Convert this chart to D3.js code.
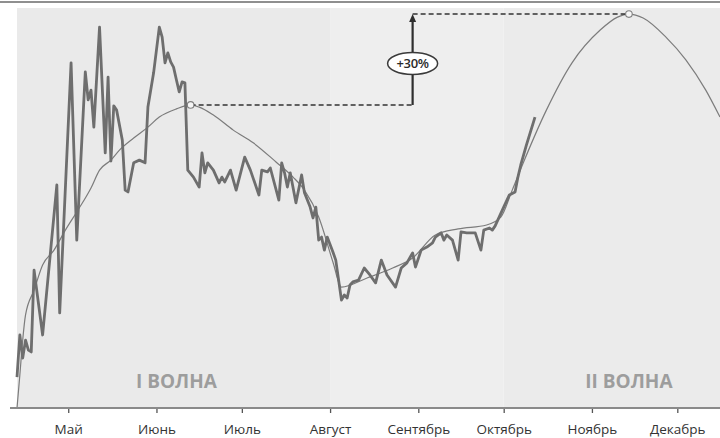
<!DOCTYPE html>
<html><head><meta charset="utf-8">
<script src="https://cdn.jsdelivr.net/npm/d3@7/dist/d3.min.js"></script>
<style>html,body{margin:0;padding:0;background:#fff;}svg{display:block;}</style>
</head><body>
<svg id="chart" width="720" height="438"></svg>
<script>
// ---- data ----
const startDate = "2020-04-13";
const endDate = "2020-12-16";
const monthTicks = ["2020-05-01","2020-06-01","2020-07-01","2020-08-01","2020-09-01","2020-10-01","2020-11-01","2020-12-01"];
const monthLabels = ["Май","Июнь","Июль","Август","Сентябрь","Октябрь","Ноябрь","Декабрь"];
const regionBounds = ["2020-04-13","2020-08-01","2020-10-01","2020-12-16"];
// daily series: day offsets from startDate and values
const dataDays = [0,1,2,3,4,5,6,9,14,15,19,21,24,25,26,27,29,31,32,33,34,35,37,38,39,41,43,45,46,48,50,51,52,53,54,55,56,57,58,59,60,62,64,65,66,67,69,71,72,73,75,77,80,82,85,86,88,89,92,93,94,95,96,98,100,101,103,104,105,106,107,108,109,111,112,114,115,116,117,118,120,122,124,126,128,130,133,135,137,139,140,142,144,146,147,149,150,151,153,155,156,158,161,163,164,166,167,168,171,173,175,176,177,179,182];
const dataValues = [10.2,24.1,16.5,22.4,19.1,18.5,45.5,24.1,73.6,31.4,113.9,55.4,110.9,101.7,104.9,92.7,125.7,84.2,109.2,81.5,99.7,98.3,88.4,71.9,71.3,80.9,81.8,80.9,99.3,110.6,125.7,122.4,113.9,117.2,114.2,112.5,108.3,104.3,107.6,107.3,78.5,76.2,72.9,84.2,77.6,80.9,78.5,74.3,76.2,74.6,78.5,71.9,82.8,78.5,70.3,78.5,77.9,79.2,68.6,80.9,77.6,72.9,77.6,67.7,76.9,71.0,66.3,62.7,66.3,55.4,56.4,52.1,56.4,51.5,48.8,35.6,37.3,36.3,40.6,41.6,42.2,46.2,43.9,41.3,48.8,43.9,39.9,46.2,47.9,51.2,46.5,52.1,53.1,54.5,56.4,57.8,55.4,57.1,55.4,48.8,58.1,57.8,57.8,52.1,58.7,59.4,58.7,60.1,66.3,70.3,71.3,76.2,80.2,86.8,96.0];
// smoothed trend (two waves)
const trendDays = [0,1,2,3,6,9,13,17,21,26,29,33,36,41,46,50,56,61,64,69,76,83,91,97,101,106,111,114,123,132,139,147,155,165,170,174,178,186,195,205,211,215,220,228,235,242,247];
const trendValues = [0,10.9,22.4,30.7,38.9,47.2,52.1,58.7,64.7,72.6,78.5,81.8,85.1,89.1,92.7,96.0,98.7,100,99.3,96.7,91.7,87.5,81.2,76.2,71.9,63.0,48.2,39.9,42.9,46.2,49.5,57.1,59.1,60.4,63.0,71.9,81.2,98.3,113.9,124.8,129.0,130,128.7,122.4,114.9,104.9,96.0];
const peakDays = [61, 215];
const peakValues = [100, 130];
const arrowDay = 139;
const annotationText = "+30%";
const waveLabels = ["I ВОЛНА","II ВОЛНА"];
const waveLabelDays = [56, 215];

// ---- chart ----
const W = 720, H = 438;
const padL = 17, padR = 720, padT = 8, padB = 408;
const svg = d3.select("#chart");
const parse = d3.timeParse("%Y-%m-%d");
const t0 = parse(startDate);
const dayToDate = d => new Date(t0.getTime() + d * 864e5);
const x = d3.scaleTime().domain([t0, parse(endDate)]).range([padL, padR]);
const y = d3.scaleLinear().domain([0, 132]).range([padB, padT]);

// top rule
svg.append("line").attr("x1",0).attr("x2",W).attr("y1",2).attr("y2",2)
  .attr("stroke","#6a6a6a").attr("stroke-width",1.5);

// background regions
const regionFills = ["#eaeaea","#eeeeee","#ebebeb"];
for (let i = 0; i < 3; i++) {
  const x0 = x(parse(regionBounds[i])), x1 = x(parse(regionBounds[i+1]));
  svg.append("rect").attr("x",x0).attr("y",padT).attr("width",x1-x0).attr("height",padB-padT)
    .attr("fill",regionFills[i]);
}

// wave labels
waveLabels.forEach((t,i) => {
  svg.append("text").attr("x", x(dayToDate(waveLabelDays[i]))).attr("y", 388)
    .attr("text-anchor","middle").attr("font-family","'Open Sans', sans-serif")
    .attr("font-weight","bold").attr("font-size",19).attr("fill","#9d9d9d").text(t);
});

// trend line
const trendLine = d3.line().x(d => x(dayToDate(d[0]))).y(d => y(d[1])).curve(d3.curveMonotoneX);
svg.append("path").datum(trendDays.map((d,i)=>[d,trendValues[i]]))
  .attr("d", trendLine).attr("fill","none").attr("stroke","#7c7c7c").attr("stroke-width",1.2);

// data line
const dataLine = d3.line().x(d => x(dayToDate(d[0]))).y(d => y(d[1]));
svg.append("path").datum(dataDays.map((d,i)=>[d,dataValues[i]]))
  .attr("d", dataLine).attr("fill","none").attr("stroke","#6e6e6e").attr("stroke-width",2.8)
  .attr("stroke-linejoin","round");

// annotation
const ax = x(dayToDate(arrowDay));
const p1x = x(dayToDate(peakDays[0])), p2x = x(dayToDate(peakDays[1]));
svg.append("line").attr("x1",p1x).attr("x2",ax).attr("y1",y(peakValues[0])).attr("y2",y(peakValues[0]))
  .attr("stroke","#333").attr("stroke-width",1.5).attr("stroke-dasharray","5,3");
svg.append("line").attr("x1",ax).attr("x2",p2x).attr("y1",y(peakValues[1])).attr("y2",y(peakValues[1]))
  .attr("stroke","#333").attr("stroke-width",1.5).attr("stroke-dasharray","5,3");
svg.append("line").attr("x1",ax).attr("x2",ax).attr("y1",y(peakValues[0])).attr("y2",y(peakValues[1])+7)
  .attr("stroke","#2e2e2e").attr("stroke-width",2.2);
const ty = y(peakValues[1]);
svg.append("path").attr("d",`M${ax},${ty} L${ax-3.5},${ty+8} L${ax+3.5},${ty+8} Z`).attr("fill","#2e2e2e");
const ey = y((peakValues[0]+peakValues[1])/2) + 4;
svg.append("ellipse").attr("cx",ax).attr("cy",ey).attr("rx",25).attr("ry",11)
  .attr("fill","#fff").attr("stroke","#3a3a3a").attr("stroke-width",1.5);
svg.append("text").attr("x",ax).attr("y",ey+4.5).attr("text-anchor","middle")
  .attr("font-family","'Open Sans', sans-serif").attr("font-size",13).attr("font-weight","600")
  .attr("letter-spacing","-0.3").attr("fill","#2a2a2a").text(annotationText);
peakDays.forEach((d,i) => {
  svg.append("circle").attr("cx",x(dayToDate(d))).attr("cy",y(peakValues[i])).attr("r",3.3)
    .attr("fill","#f6f6f6").attr("stroke","#808080").attr("stroke-width",1.1);
});

// x axis
const axis = d3.axisBottom(x).tickValues(monthTicks.map(parse))
  .tickFormat((d,i) => monthLabels[i]).tickSize(5).tickSizeOuter(0);
const g = svg.append("g").attr("transform",`translate(0,${padB})`).call(axis);
g.select(".domain").remove();
g.append("line").attr("x1",10).attr("x2",W).attr("y1",0).attr("y2",0)
  .attr("stroke","#8a8a8a").attr("stroke-width",2);
g.selectAll(".tick line").attr("stroke","#555").attr("stroke-width",1.3);
g.selectAll(".tick text").attr("font-family","'Open Sans', sans-serif").attr("font-size",13.5)
  .attr("fill","#333").attr("dy","1.3em");
</script>
</body></html>
